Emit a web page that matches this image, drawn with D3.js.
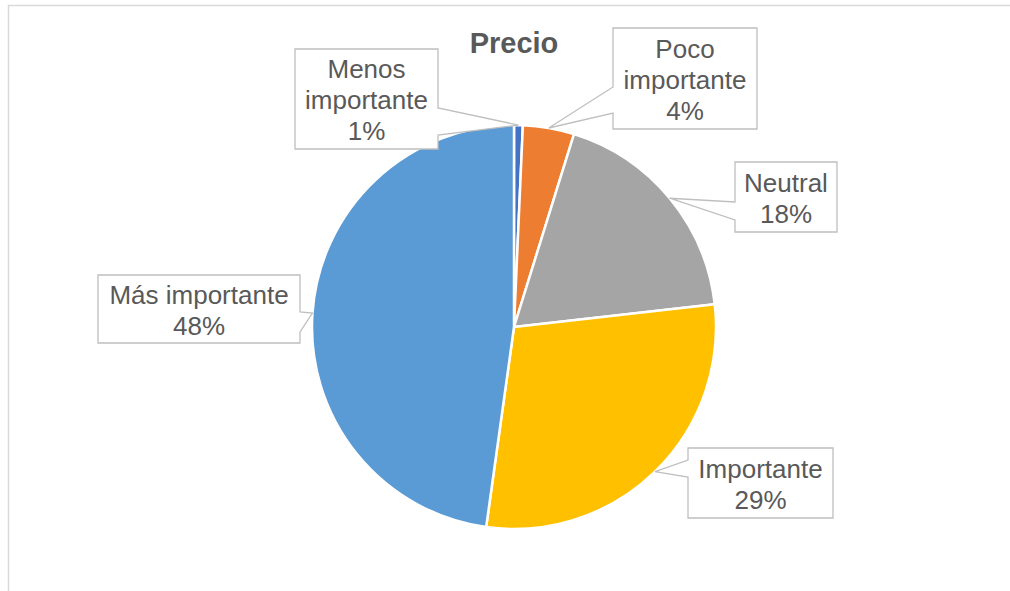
<!DOCTYPE html>
<html>
<head>
<meta charset="utf-8">
<script src="https://cdn.jsdelivr.net/npm/d3@7"></script>
<style>
  html, body { margin: 0; padding: 0; background: #fff; }
  svg { display: block; }
</style>
</head>
<body>
<svg id="chart" width="1010" height="591"></svg>
<script>
// ---- data ----
const title = "Precio";
const categories = ["Menos importante", "Poco importante", "Neutral", "Importante", "Más importante"];
const values = [0.7, 4.1, 18.4, 29.0, 47.8];
const labelLines = [["Menos", "importante"], ["Poco", "importante"], ["Neutral"], ["Importante"], ["Más importante"]];

// ---- styles / layout ----
const colors = ["#4472C4", "#ED7D31", "#A5A5A5", "#FFC000", "#5B9BD5"];
const W = 1010, H = 591;
const cx = 514, cy = 327, R = 202;
// label boxes: [x0, y0, x1, y1, side of pointer, base start, base end]
const boxes = [
  [295, 49, 438, 149, "right", 108, 135],
  [613, 28, 757, 129, "left", 87, 113],
  [735, 162, 837, 232, "left", 202, 220],
  [688, 448, 833, 518, "left", 460, 477],
  [98, 275, 300, 343, "right", 312, 332]
];

const svg = d3.select("#chart");

// outer chart border (partially visible)
svg.append("path")
  .attr("d", `M8.5,${H} V5.5 H${W}`)
  .attr("fill", "none")
  .attr("stroke", "#D9D9D9")
  .attr("stroke-width", 1.5);

// title
svg.append("text")
  .attr("x", cx).attr("y", 53)
  .attr("text-anchor", "middle")
  .attr("font-family", "Liberation Sans, Arial, sans-serif")
  .attr("font-weight", "bold")
  .attr("font-size", 29)
  .attr("fill", "#595959")
  .text(title);

const data = categories.map((c, i) => ({ cat: c, value: values[i], i }));
const total = d3.sum(values);
const pie = d3.pie().value(d => d.value).sort(null);
const arcs = pie(data);
const arc = d3.arc().innerRadius(0).outerRadius(R);

const g = svg.append("g").attr("transform", `translate(${cx},${cy})`);
g.selectAll("path.slice")
  .data(arcs)
  .join("path")
  .attr("class", "slice")
  .attr("d", arc)
  .attr("fill", d => colors[d.data.i])
  .attr("stroke", "#fff")
  .attr("stroke-width", 2.5)
  .attr("stroke-linejoin", "round");

// callout labels
const fmt = v => Math.round(v / total * 100) + "%";
const lg = svg.append("g");
arcs.forEach(a => {
  const i = a.data.i;
  const [x0, y0, x1, y1, side, b0, b1] = boxes[i];
  const mid = (a.startAngle + a.endAngle) / 2;
  const tx = cx + R * Math.sin(mid), ty = cy - R * Math.cos(mid);
  let d;
  if (side === "right") {
    d = `M${x0},${y0} H${x1} V${b0} L${tx},${ty} L${x1},${b1} V${y1} H${x0} Z`;
  } else {
    d = `M${x0},${y0} H${x1} V${y1} H${x0} V${b1} L${tx},${ty} L${x0},${b0} Z`;
  }
  lg.append("path")
    .attr("d", d)
    .attr("fill", "#fff")
    .attr("stroke", "#BFBFBF")
    .attr("stroke-width", 1.3)
    .attr("stroke-linejoin", "miter");

  const lines = labelLines[i].concat([fmt(a.data.value)]);
  const lh = 31;
  const mx = (x0 + x1) / 2, my = (y0 + y1) / 2 + 1;
  const startY = my - (lines.length - 1) * lh / 2;
  const t = lg.append("text")
    .attr("text-anchor", "middle")
    .attr("font-family", "Liberation Sans, Arial, sans-serif")
    .attr("font-size", 26)
    .attr("fill", "#595959");
  lines.forEach((ln, k) => {
    t.append("tspan")
      .attr("x", mx)
      .attr("y", startY + k * lh)
      .attr("dy", "0.35em")
      .text(ln);
  });
});
</script>
</body>
</html>
